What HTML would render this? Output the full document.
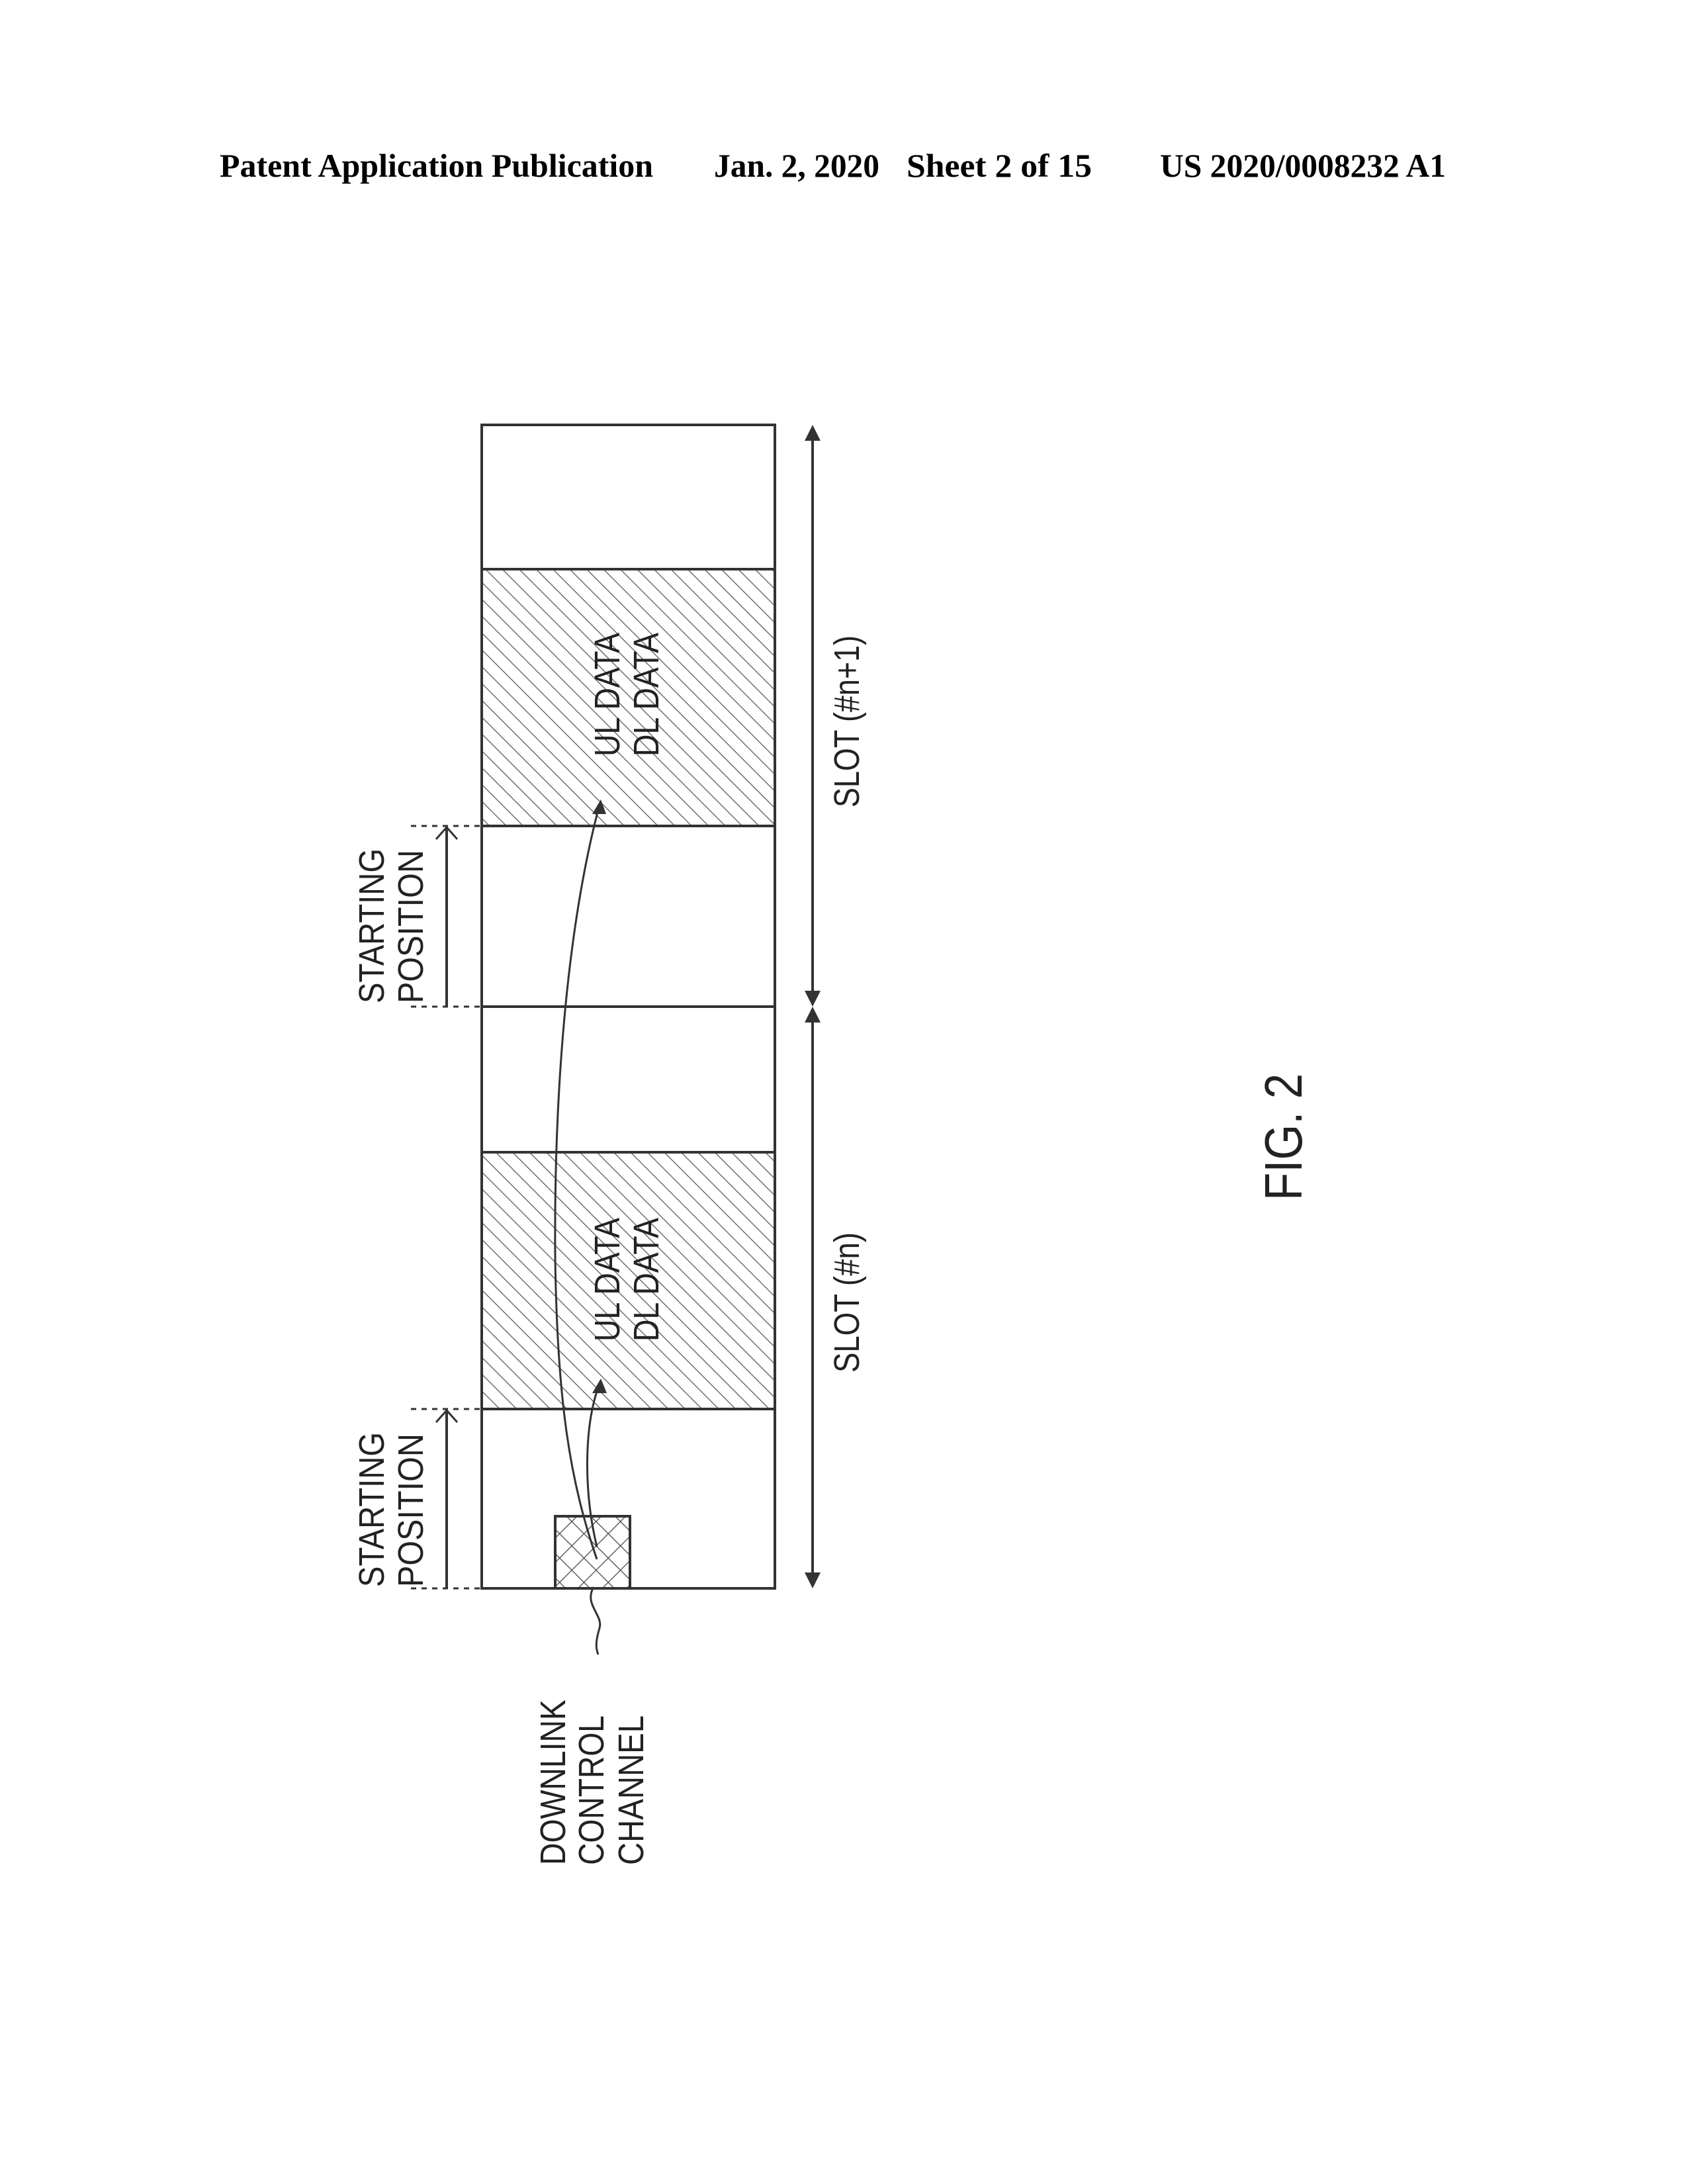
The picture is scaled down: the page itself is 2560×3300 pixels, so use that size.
<!DOCTYPE html>
<html><head><meta charset="utf-8"><style>
html,body{margin:0;padding:0;background:#fff;}
svg{display:block;}
text{font-family:"Liberation Sans",sans-serif;fill:#222;}
.h{font-family:"Liberation Serif",serif;font-weight:bold;fill:#000;}
</style></head><body>
<svg width="2560" height="3300" viewBox="0 0 2560 3300" xmlns="http://www.w3.org/2000/svg">
<defs>
<pattern id="hat" patternUnits="userSpaceOnUse" width="18" height="18" patternTransform="rotate(-45)">
<line x1="0" y1="0" x2="0" y2="18" stroke="#555" stroke-width="2.5"/>
</pattern>
<pattern id="xh" patternUnits="userSpaceOnUse" width="26" height="26" patternTransform="rotate(45)">
<line x1="0" y1="0" x2="0" y2="26" stroke="#444" stroke-width="2.5"/>
<line x1="0" y1="0" x2="26" y2="0" stroke="#444" stroke-width="2.5"/>
</pattern>
</defs>

<!-- header -->
<text class="h" x="332" y="267" font-size="50" textLength="655" lengthAdjust="spacingAndGlyphs">Patent Application Publication</text>
<text class="h" x="1079" y="267" font-size="50" textLength="250" lengthAdjust="spacingAndGlyphs">Jan. 2, 2020</text>
<text class="h" x="1370" y="267" font-size="50" textLength="280" lengthAdjust="spacingAndGlyphs">Sheet 2 of 15</text>
<text class="h" x="1753" y="267" font-size="50" textLength="432" lengthAdjust="spacingAndGlyphs">US 2020/0008232 A1</text>

<!-- hatched regions -->
<rect x="728" y="860" width="443" height="388" fill="url(#hat)"/>
<rect x="728" y="1741" width="443" height="388" fill="url(#hat)"/>
<!-- main box -->
<g stroke="#333" stroke-width="4" fill="none">
<rect x="728" y="642" width="443" height="1758"/>
<line x1="728" y1="860" x2="1171" y2="860"/>
<line x1="728" y1="1248" x2="1171" y2="1248"/>
<line x1="728" y1="1521" x2="1171" y2="1521"/>
<line x1="728" y1="1741" x2="1171" y2="1741"/>
<line x1="728" y1="2129" x2="1171" y2="2129"/>
</g>
<!-- PDCCH -->
<rect x="839" y="2291" width="113" height="109" fill="url(#xh)" stroke="#333" stroke-width="4"/>

<!-- starting position dimension lines -->
<g stroke="#333" stroke-width="3" fill="none">
<line x1="621" y1="1248" x2="728" y2="1248" stroke-dasharray="8,8"/>
<line x1="621" y1="1521" x2="728" y2="1521" stroke-dasharray="8,8"/>
<line x1="621" y1="2129" x2="728" y2="2129" stroke-dasharray="8,8"/>
<line x1="621" y1="2400" x2="728" y2="2400" stroke-dasharray="8,8"/>
<line x1="675" y1="1250" x2="675" y2="1521" stroke-width="4"/>
<polyline points="659,1268 675,1250 691,1268"/>
<line x1="675" y1="2131" x2="675" y2="2400" stroke-width="4"/>
<polyline points="659,2149 675,2131 691,2149"/>
</g>

<!-- slot arrows -->
<g stroke="#333" stroke-width="4">
<line x1="1228" y1="652" x2="1228" y2="1509"/>
<line x1="1228" y1="1533" x2="1228" y2="2390"/>
</g>
<g fill="#333">
<polygon points="1228,642 1216,666 1240,666"/>
<polygon points="1228,1521 1216,1497 1240,1497"/>
<polygon points="1228,1521 1216,1545 1240,1545"/>
<polygon points="1228,2400 1216,2376 1240,2376"/>
</g>

<!-- curves -->
<g stroke="#333" stroke-width="3" fill="none">
<path d="M902,2356 C862,2240 842,2120 839,1900 C837,1650 857,1400 906,1216"/>
<path d="M902,2337 C882,2254 882,2154 906,2091"/>
<path d="M897,2398 C882,2425 912,2440 906,2460 C900,2480 900,2490 904,2500"/>
</g>
<g fill="#333">
<polygon points="908,1208 895,1230 916,1230"/>
<polygon points="908,2083 895,2105 917,2105"/>
</g>

<!-- rotated labels -->
<g font-size="54">
<text transform="translate(580,1516) rotate(-90)" textLength="234" lengthAdjust="spacingAndGlyphs">STARTING</text>
<text transform="translate(639,1516) rotate(-90)" textLength="232" lengthAdjust="spacingAndGlyphs">POSITION</text>
<text transform="translate(580,2398) rotate(-90)" textLength="234" lengthAdjust="spacingAndGlyphs">STARTING</text>
<text transform="translate(639,2398) rotate(-90)" textLength="232" lengthAdjust="spacingAndGlyphs">POSITION</text>

<text transform="translate(936,1143) rotate(-90)" textLength="187" lengthAdjust="spacingAndGlyphs">UL DATA</text>
<text transform="translate(995,1143) rotate(-90)" textLength="187" lengthAdjust="spacingAndGlyphs">DL DATA</text>
<text transform="translate(936,2027) rotate(-90)" textLength="187" lengthAdjust="spacingAndGlyphs">UL DATA</text>
<text transform="translate(995,2027) rotate(-90)" textLength="187" lengthAdjust="spacingAndGlyphs">DL DATA</text>

<text transform="translate(1298,1220) rotate(-90)" textLength="260" lengthAdjust="spacingAndGlyphs">SLOT (#n+1)</text>
<text transform="translate(1298,2074) rotate(-90)" textLength="212" lengthAdjust="spacingAndGlyphs">SLOT (#n)</text>

<text transform="translate(854,2818) rotate(-90)" textLength="250" lengthAdjust="spacingAndGlyphs">DOWNLINK</text>
<text transform="translate(912,2818) rotate(-90)" textLength="226" lengthAdjust="spacingAndGlyphs">CONTROL</text>
<text transform="translate(972,2818) rotate(-90)" textLength="226" lengthAdjust="spacingAndGlyphs">CHANNEL</text>
</g>
<text transform="translate(1967,1814) rotate(-90)" font-size="80" textLength="192" lengthAdjust="spacingAndGlyphs">FIG. 2</text>
</svg>
</body></html>
